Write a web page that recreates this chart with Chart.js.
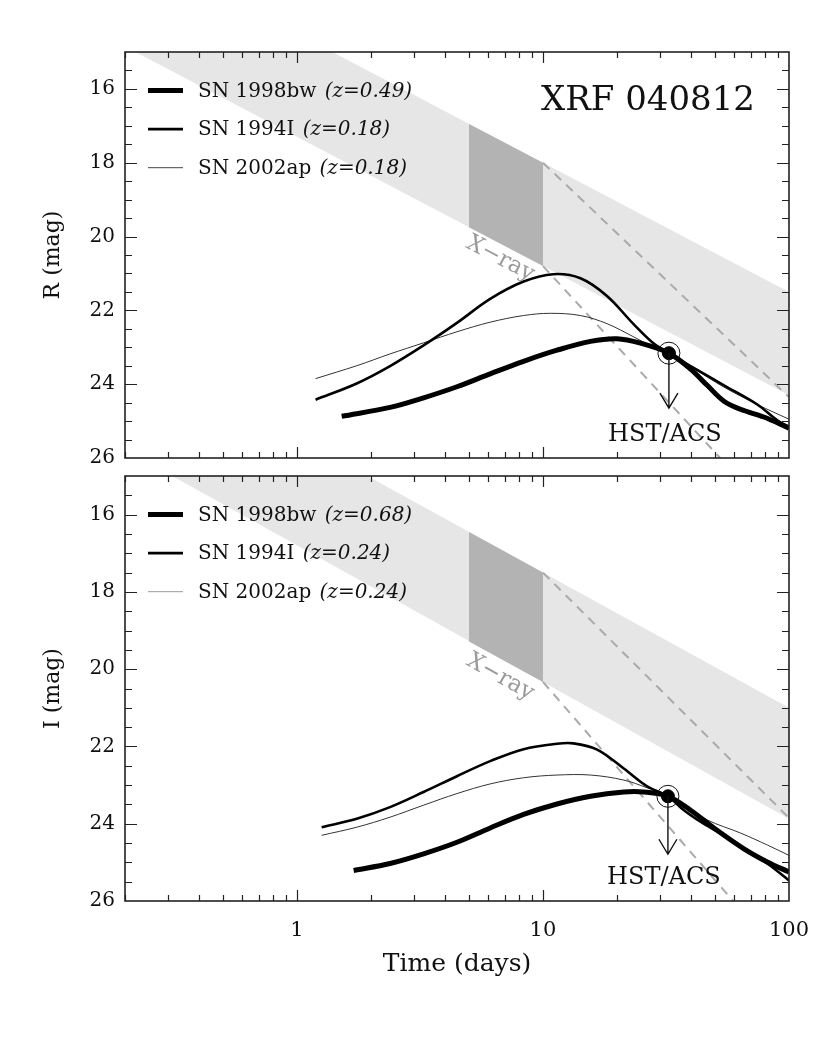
<!DOCTYPE html>
<html>
<head>
<meta charset="utf-8">
<script src="https://cdn.jsdelivr.net/npm/chart.js@4.4.1/dist/chart.umd.min.js"></script>
<style>
  body { margin: 0; background: #fff; }
  #wrap { position: relative; width: 830px; height: 1060px; }
  #wrap canvas { position: absolute; left: 0; }
</style>
</head>
<body>
<div id="wrap">
  <canvas id="panelR" width="830" height="480" style="top:0px"></canvas>
  <canvas id="panelI" width="830" height="620" style="top:440px"></canvas>
</div>
<script>
// tick labels
const xTickValues = [1, 10, 100]
const yTickValues = [16, 18, 20, 22, 24, 26]
const decades = [0.1, 1, 10]

// ---- R band (upper panel) ----
const rDays98bw = [1.52, 2.39, 3.27, 4.47, 6.1, 8.34, 11.4, 15.6, 20.0, 24.9, 32.5, 39.8, 46.5, 54.4, 63.5, 79, 100]
const rMag98bw  = [24.87, 24.63, 24.37, 24.07, 23.72, 23.38, 23.08, 22.84, 22.77, 22.89, 23.16, 23.59, 24.03, 24.46, 24.68, 24.89, 25.19]
const rDays94I  = [1.19, 1.75, 2.39, 3.27, 4.47, 6.1, 8.34, 11.0, 14.2, 18.2, 23.4, 28.2, 32.5, 39.8, 54.4, 74.3, 89.6, 100]
const rMag94I   = [24.42, 23.98, 23.51, 22.95, 22.34, 21.69, 21.22, 21.02, 21.13, 21.61, 22.38, 22.90, 23.16, 23.51, 24.03, 24.55, 24.98, 25.15]
const rDays02ap = [1.19, 1.75, 2.39, 3.27, 4.47, 6.1, 8.34, 10.7, 14.2, 18.2, 23.4, 28.2, 32.5, 39.8, 54.4, 74.3, 100]
const rMag02ap  = [23.85, 23.50, 23.18, 22.88, 22.58, 22.32, 22.14, 22.08, 22.14, 22.36, 22.72, 23.00, 23.16, 23.52, 24.08, 24.55, 24.95]
const rBandDays = [0.2, 100]
const rBandBright = [12.05, 21.5]
const rBandFaint = [14.85, 24.3]
const rDarkDays = [5, 10]
const rDarkBright = [16.95, 18.0]
const rDarkFaint = [19.75, 20.8]
const rSlowDays = [10, 100]
const rSlowMag = [18.0, 24.35]
const rFastDays = [10, 52.5]
const rFastMag = [20.8, 26.0]
const rHst = { day: 32.5, mag: 23.16, limit: 24.65 }
const rRedshift = ['0.49', '0.18', '0.18']

// ---- I band (lower panel) ----
const iDays98bw = [1.7, 2.39, 3.27, 4.47, 6.1, 8.34, 11.4, 15.6, 21.3, 25.7, 32.2, 39.8, 51, 65.6, 81.6, 100]
const iMag98bw  = [25.21, 25.03, 24.78, 24.48, 24.11, 23.76, 23.49, 23.29, 23.18, 23.18, 23.29, 23.65, 24.17, 24.65, 24.99, 25.25]
const iDays94I  = [1.26, 1.75, 2.39, 3.27, 4.47, 6.1, 8.34, 11.4, 13.3, 16.6, 21.3, 26.5, 32.2, 37.4, 45, 54.4, 65.6, 81.6, 100]
const iMag94I   = [24.09, 23.87, 23.57, 23.18, 22.77, 22.38, 22.07, 21.93, 21.92, 22.08, 22.57, 23.03, 23.29, 23.65, 24.0, 24.3, 24.65, 25.03, 25.47]
const iDays02ap = [1.26, 1.75, 2.39, 3.27, 4.47, 6.1, 8.34, 11.4, 15.6, 21.3, 26.5, 32.2, 46.5, 63.5, 81.6, 100]
const iMag02ap  = [24.3, 24.09, 23.83, 23.52, 23.22, 22.97, 22.81, 22.74, 22.74, 22.87, 23.07, 23.29, 23.90, 24.24, 24.55, 24.82]
const iBandDays = [0.2, 100]
const iBandBright = [11.55, 21.0]
const iBandFaint = [14.32, 23.87]
const iDarkDays = [5, 10]
const iDarkBright = [16.45, 17.5]
const iDarkFaint = [19.28, 20.33]
const iSlowDays = [10, 100]
const iSlowMag = [17.5, 23.85]
const iFastDays = [10, 59.3]
const iFastMag = [20.33, 26.0]
const iHst = { day: 32.2, mag: 23.29, limit: 24.79 }
const iRedshift = ['0.68', '0.24', '0.24']

Chart.defaults.font.family = '"DejaVu Serif", serif'
Chart.defaults.color = '#111'

const pts = (xs, ys) => xs.map((x, i) => ({ x, y: ys[i] }))
const FONT = '"DejaVu Serif", serif'

// inward ticks, frame, legend and labels
const decor = {
  id: 'decor',
  afterDatasetsDraw(chart, args, o) {
    const { ctx, chartArea: a, scales: { x, y } } = chart
    ctx.save()
    ctx.strokeStyle = '#222'
    ctx.lineWidth = 1.2
    ctx.beginPath()
    decades.forEach(d => {
      for (let k = 1; k < 10; k++) {
        const v = d * k
        if (v < x.min || v >= x.max) continue
        const px = Math.round(x.getPixelForValue(v)) + 0.5
        const len = k === 1 ? 11 : 6
        ctx.moveTo(px, a.bottom); ctx.lineTo(px, a.bottom - len)
        ctx.moveTo(px, a.top); ctx.lineTo(px, a.top + len)
      }
    })
    for (let i = 31; i < 52; i++) {
      const v = i / 2
      const py = Math.round(y.getPixelForValue(v)) + 0.5
      const len = v % 2 === 0 ? 12 : 7
      ctx.moveTo(a.left, py); ctx.lineTo(a.left + len, py)
      ctx.moveTo(a.right, py); ctx.lineTo(a.right - len, py)
    }
    ctx.stroke()
    ctx.lineWidth = 1.6
    ctx.strokeRect(a.left, a.top, a.width, a.height)

    // legend
    o.legend.forEach((it, i) => {
      const ly = a.top + 38.5 + i * 38.6
      ctx.strokeStyle = it.color
      ctx.lineWidth = it.width
      ctx.beginPath(); ctx.moveTo(a.left + 23, ly); ctx.lineTo(a.left + 58, ly); ctx.stroke()
      ctx.fillStyle = '#111'
      ctx.textBaseline = 'middle'
      ctx.textAlign = 'left'
      ctx.font = '20px ' + FONT
      const base = it.label + ' '
      ctx.fillText(base, a.left + 73, ly + 1)
      const w = ctx.measureText(base).width
      ctx.font = 'italic 20px ' + FONT
      ctx.fillText('(z=' + it.z + ')', a.left + 75 + w, ly + 1)
    })

    if (o.title) {
      ctx.font = '34px ' + FONT
      ctx.textAlign = 'right'
      ctx.textBaseline = 'alphabetic'
      ctx.fillStyle = '#111'
      ctx.fillText(o.title, a.right - 34, a.top + 58)
    }

    // X-ray label along the band edge
    const bx0 = x.getPixelForValue(o.band.days[0]), bx1 = x.getPixelForValue(o.band.days[1])
    const by0 = y.getPixelForValue(o.band.faint[0]), by1 = y.getPixelForValue(o.band.faint[1])
    const ang = Math.atan2(by1 - by0, bx1 - bx0)
    ctx.save()
    ctx.translate(x.getPixelForValue(o.xray.day), y.getPixelForValue(o.xray.mag))
    ctx.rotate(ang)
    ctx.font = '23px ' + FONT
    ctx.fillStyle = '#9a9a9a'
    ctx.textAlign = 'center'
    ctx.textBaseline = 'middle'
    ctx.fillText('X\u2212ray', 0, 0)
    ctx.restore()

    // HST/ACS upper limit arrow
    const hx = x.getPixelForValue(o.hst.day)
    const hy0 = y.getPixelForValue(o.hst.mag)
    const hy1 = y.getPixelForValue(o.hst.limit)
    ctx.strokeStyle = '#111'
    ctx.lineWidth = 1.4
    ctx.beginPath()
    ctx.moveTo(hx, hy0); ctx.lineTo(hx, hy1)
    ctx.moveTo(hx - 9, hy1 - 15); ctx.lineTo(hx, hy1); ctx.lineTo(hx + 9, hy1 - 15)
    ctx.stroke()
    ctx.font = '24px ' + FONT
    ctx.fillStyle = '#111'
    ctx.textAlign = 'center'
    ctx.textBaseline = 'alphabetic'
    ctx.fillText('HST/ACS', hx - 4, y.getPixelForValue(o.hstTextMag))
    ctx.restore()
  }
}

function panel(id, p) {
  const curve = (data, w, color, order) => ({
    data, borderColor: color, borderWidth: w, pointRadius: 0, fill: false,
    tension: 0.35, order
  })
  const edge = (data, fill, bg, order) => ({
    data, borderColor: 'rgba(0,0,0,0)', borderWidth: 0, pointRadius: 0,
    fill, backgroundColor: bg, order
  })
  const dashed = data => ({
    data, borderColor: '#aaaaaa', borderWidth: 2, borderDash: [9, 7], pointRadius: 0, fill: false, order: 5
  })
  const datasets = [
    edge(pts(p.band.days, p.band.bright), '+1', '#e6e6e6', 10),
    edge(pts(p.band.days, p.band.faint), false, '#e6e6e6', 10),
    edge(pts(p.dark.days, p.dark.bright), '+1', '#b3b3b3', 9),
    edge(pts(p.dark.days, p.dark.faint), false, '#b3b3b3', 9),
    dashed(pts(p.slow.days, p.slow.mag)),
    dashed(pts(p.fast.days, p.fast.mag)),
    curve(pts(p.c02ap.days, p.c02ap.mag), 1, '#333', 3),
    curve(pts(p.c94I.days, p.c94I.mag), 2.6, '#000', 2),
    curve(pts(p.c98bw.days, p.c98bw.mag), 5, '#000', 1),
    { data: [{ x: p.hst.day, y: p.hst.mag }], showLine: false, pointRadius: 6.5,
      pointBackgroundColor: '#000', pointBorderColor: '#000', order: 0 },
    { data: [{ x: p.hst.day, y: p.hst.mag }], showLine: false, pointRadius: 11,
      pointBackgroundColor: 'rgba(0,0,0,0)', pointBorderColor: '#111', pointBorderWidth: 1, order: 0 }
  ]
  return new Chart(document.getElementById(id), {
    type: 'line',
    data: { datasets },
    options: {
      responsive: false,
      animation: false,
      events: [],
      layout: { padding: p.padding },
      plugins: {
        legend: { display: false },
        tooltip: { enabled: false },
        decor: {
          legend: p.legend, title: p.title, band: p.band, xray: p.xray,
          hst: p.hst, hstTextMag: p.hstTextMag
        }
      },
      scales: {
        x: {
          type: 'logarithmic', min: 0.2, max: 100,
          display: p.showX,
          afterBuildTicks: s => { s.ticks = xTickValues.map(v => ({ value: v })) },
          afterFit: s => { if (p.showX) s.height = p.xHeight },
          grid: { display: false, drawTicks: false },
          border: { display: false },
          ticks: { padding: 17, font: { size: 21 }, color: '#111', callback: v => String(v), maxRotation: 0, autoSkip: false },
          title: { display: true, text: 'Time (days)', font: { size: 25 }, color: '#111', padding: { top: 0, bottom: 81 } }
        },
        y: {
          reverse: true, min: 15, max: 26,
          afterBuildTicks: s => { s.ticks = yTickValues.map(v => ({ value: v })) },
          afterFit: s => { s.width = 125 },
          grid: { display: false, drawTicks: false },
          border: { display: false },
          ticks: { padding: 10, font: { size: 20 }, color: '#111' },
          title: { display: true, text: p.yTitle, font: { size: 22 }, color: '#111', padding: { top: 40, bottom: 0 } }
        }
      }
    },
    plugins: [decor]
  })
}

const legendRows = (z, thinColor) => [
  { label: 'SN 1998bw', z: z[0], width: 5, color: '#000' },
  { label: 'SN 1994I', z: z[1], width: 2.6, color: '#000' },
  { label: 'SN 2002ap', z: z[2], width: 1, color: thinColor }
]

panel('panelR', {
  padding: { top: 52, right: 41, bottom: 4, left: 0 },
  showX: false,
  yTitle: 'R (mag)',
  title: 'XRF 040812',
  legend: legendRows(rRedshift, '#444'),
  band: { days: rBandDays, bright: rBandBright, faint: rBandFaint },
  dark: { days: rDarkDays, bright: rDarkBright, faint: rDarkFaint },
  slow: { days: rSlowDays, mag: rSlowMag },
  fast: { days: rFastDays, mag: rFastMag },
  c98bw: { days: rDays98bw, mag: rMag98bw },
  c94I: { days: rDays94I, mag: rMag94I },
  c02ap: { days: rDays02ap, mag: rMag02ap },
  xray: { day: 6.7, mag: 20.6 },
  hst: rHst,
  hstTextMag: 25.54
})

panel('panelI', {
  padding: { top: 36, right: 41, bottom: 0, left: 0 },
  showX: true,
  xHeight: 159,
  yTitle: 'I (mag)',
  title: null,
  legend: legendRows(iRedshift, '#999'),
  band: { days: iBandDays, bright: iBandBright, faint: iBandFaint },
  dark: { days: iDarkDays, bright: iDarkBright, faint: iDarkFaint },
  slow: { days: iSlowDays, mag: iSlowMag },
  fast: { days: iFastDays, mag: iFastMag },
  c98bw: { days: iDays98bw, mag: iMag98bw },
  c94I: { days: iDays94I, mag: iMag94I },
  c02ap: { days: iDays02ap, mag: iMag02ap },
  xray: { day: 6.7, mag: 20.2 },
  hst: iHst,
  hstTextMag: 25.55
})
</script>
</body>
</html>
